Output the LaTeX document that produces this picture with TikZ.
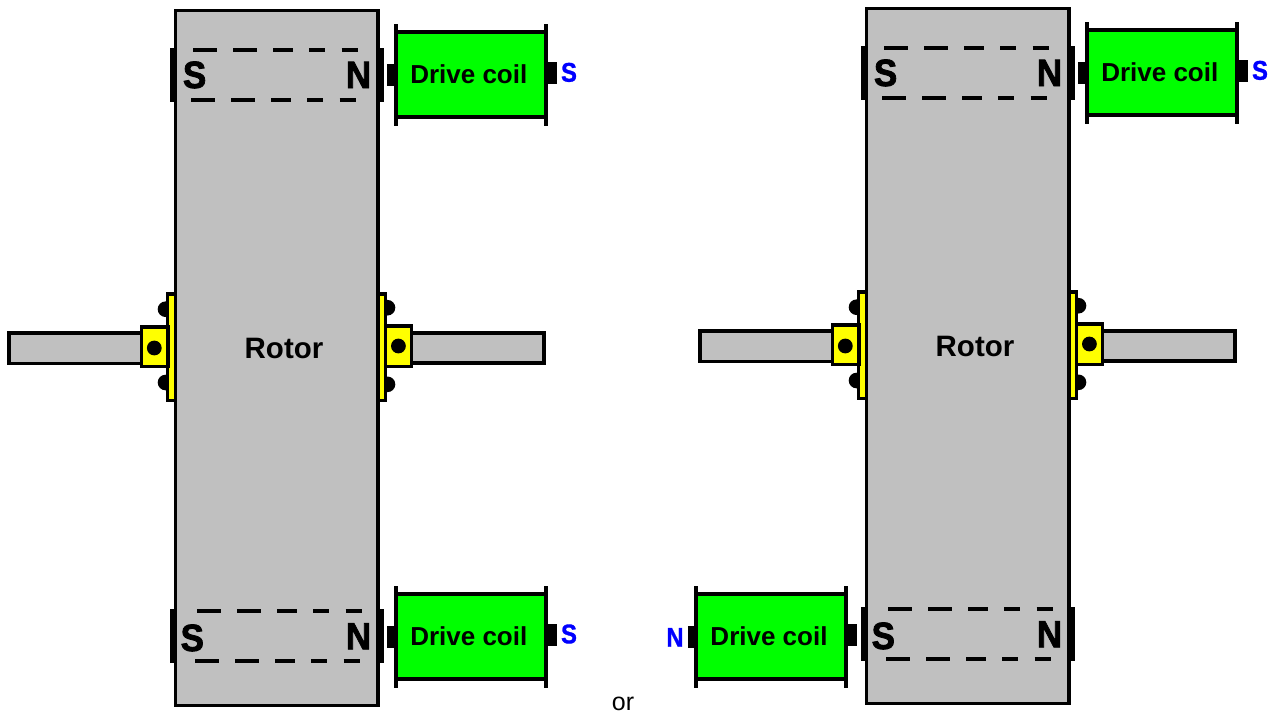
\documentclass[tikz,border=0pt]{standalone}
\usepackage{fontspec}
\setmainfont{Liberation Sans}
\newfontfamily\heavyfont[FakeBold=2.2]{Liberation Sans Bold}
\newfontfamily\midfont[FakeBold=1.2]{Liberation Sans Bold}
\definecolor{rotorgrey}{HTML}{C0C0C0}
\definecolor{coilgreen}{HTML}{00FF00}
\definecolor{brgyellow}{HTML}{FFFF00}
\definecolor{poleblue}{HTML}{0000FF}
\tikzset{
  ink/.style={draw=black,line width=3.6pt,miter limit=10},
  rotorbody/.style={ink,fill=rotorgrey},
  coilbody/.style={ink,fill=coilgreen},
  brg/.style={ink,fill=brgyellow},
  shaftbody/.style={ink,fill=rotorgrey},
  blackfill/.style={fill=black,draw=none},
  dashline/.style={draw=black,line width=4pt},
  flange/.style={draw=black,line width=3.6pt},
  pole/.style={anchor=base,inner sep=0pt,font=\fontsize{38}{38}\heavyfont,xscale=.92,transform shape},
  coiltext/.style={anchor=base,inner sep=0pt,font=\fontsize{26}{26}\selectfont\bfseries},
  rotortext/.style={anchor=base,inner sep=0pt,font=\fontsize{29.5}{29.5}\selectfont\bfseries},
  bluepole/.style={anchor=base,inner sep=0pt,text=poleblue,font=\fontsize{27}{27}\midfont,xscale=.88,transform shape},
  plaintext/.style={anchor=base,inner sep=0pt,font=\fontsize{25}{25}\selectfont},
}
\newcommand{\coilunit}[4]{%
  \begin{scope}[shift={(#2,#3)}]
    \fill[blackfill] (-8.5,38) rectangle (1,60);
    \fill[blackfill] (148,36) rectangle (161,58);
    \draw[coilbody] (0,6) rectangle (150,91);
    \draw[flange] (0,-2) -- (0,99.5);
    \draw[flange] (150,-2) -- (150,99.5);
    \node[coiltext] (#1) at (73,57.3) {Drive coil};
  \end{scope}%
}
\newcommand{\magnetunit}[6]{%
  \begin{scope}[shift={(0,#2)}]
    \fill[blackfill] (169.5,47.7) rectangle (174.5,101.7);
    \fill[blackfill] (378,47.7) rectangle (384,101.7);
    \begin{scope}[shift={(#3,0)}]
      \foreach \a/\b in {193.3/217.3,233.3/257.3,273.3/293.3,309.3/325.3,341.7/357.7}{
        \draw[dashline] (\a,50) -- (\b,50);
        \draw[dashline] (\a-2,100) -- (\b-2,100);
      }
    \end{scope}
    \node[pole] (#1S) at (#4,#5) {S};
    \node[pole] (#1N) at (358.5,88) {N};
  \end{scope}%
}
\newcommand{\rotorunit}[1]{%
  \fill[blackfill] (165.5,309.2) circle (7.8);
  \fill[blackfill] (165.5,382.5) circle (7.8);
  \fill[blackfill] (387.5,307.7) circle (7.8);
  \fill[blackfill] (387.5,384.3) circle (7.8);
  \draw[shaftbody] (8.8,333) rectangle (145,363.3);
  \draw[shaftbody] (405,333) rectangle (544.2,362.7);
  \draw[rotorbody] (175.4,10.3) rectangle (377.7,705.3);
  \draw[brg] (167.5,294.2) rectangle (175.4,400.4);
  \draw[brg] (377.7,294.2) rectangle (385.3,400.4);
  \draw[brg] (141.3,327) rectangle (168,366.4);
  \draw[brg] (385.3,326.2) rectangle (411.5,366.4);
  \fill[blackfill] (154.3,348) circle (7.4);
  \fill[blackfill] (398.4,346) circle (7.4);
  \magnetunit{#1t}{0}{0}{194.6}{88}{}
  \magnetunit{#1b}{561.3}{4}{192.3}{89.7}{}
  \node[rotortext] (#1r) at (284,358) {Rotor};
}
\begin{document}
\begin{tikzpicture}[x=1pt,y=-1pt]
  \useasboundingbox (0,0) rectangle (1277,713);
  \fill[white] (0,0) rectangle (1277,713);
  \rotorunit{l}
  \coilunit{lct}{395.8}{26}{}
  \coilunit{lcb}{395.8}{588}{}
  \node[bluepole] (lsa) at (569,81.7) {S};
  \node[bluepole] (lsb) at (569,643.3) {S};
  \begin{scope}[shift={(691,-2)}]
    \rotorunit{r}
    \coilunit{rct}{395.8}{26}{}
    \node[bluepole] (rsa) at (569,81.7) {S};
  \end{scope}
  \coilunit{rcb}{696}{588}{}
  \node[bluepole] (rna) at (675,646.7) {N};
  \node[plaintext] (orl) at (623,710) {or};
\end{tikzpicture}
\end{document}
